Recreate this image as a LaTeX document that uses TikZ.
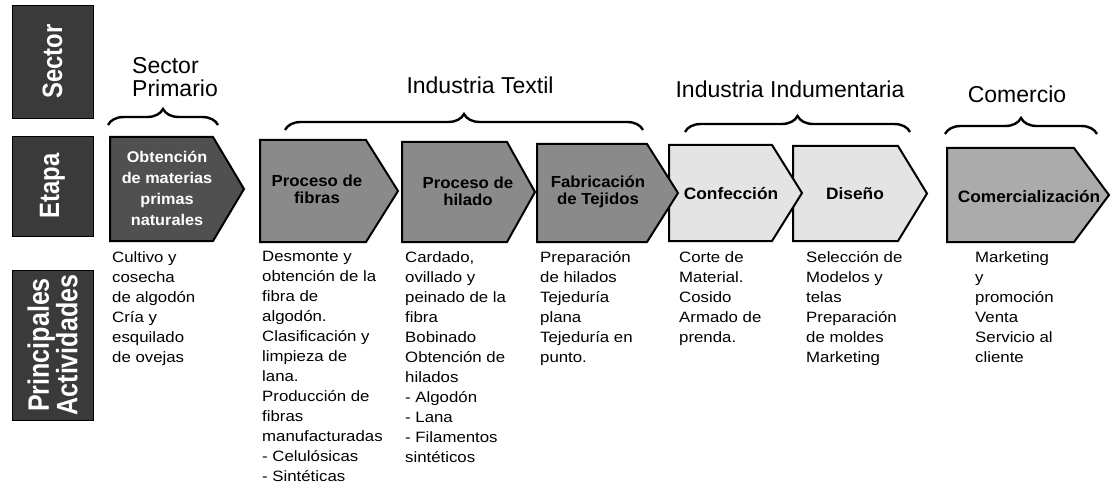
\documentclass[tikz,border=0pt]{standalone}
\usepackage{fontspec}
\setmainfont{Liberation Sans}
\newfontfamily\actfont[FakeStretch=1.12]{Liberation Sans}
\newfontfamily\stgfont[FakeStretch=1.05]{Liberation Sans}
\newfontfamily\lblfont[FakeStretch=0.85]{Liberation Sans}
\usetikzlibrary{decorations.pathreplacing}
\definecolor{lblgray}{HTML}{3A3A3A}
\definecolor{obtgray}{HTML}{505050}
\definecolor{midgray}{HTML}{8A8A8A}
\definecolor{lightgray}{HTML}{E4E4E4}
\definecolor{comgray}{HTML}{ABABAB}
\tikzset{
  rowlbl/.style={fill=lblgray, draw=black, line width=0.6pt, rotate=90, text=white,
    font=\lblfont\bfseries\fontsize{28}{26}\selectfont, align=center, inner sep=0pt},
  chev/.style={draw=black, line width=2pt, line join=miter},
  stagetxt/.style={font=\stgfont\bfseries\fontsize{16}{17}\selectfont, align=center, inner sep=0pt},
  hdr/.style={font=\fontsize{23}{22}\selectfont, inner sep=0pt},
  bracestyle/.style={decorate, decoration={brace, amplitude=16pt}, line width=2.4pt},
  acttxt/.style={font=\actfont\fontsize{15}{20}\selectfont, align=left, anchor=north west, inner sep=0pt},
}
\begin{document}
\begin{tikzpicture}[x=1pt,y=-1pt]
\useasboundingbox (0,0) rectangle (1111,484);
% row labels
\node[rowlbl, minimum width=113, minimum height=81] (lsector) at (52.5,61.5) {Sector};
\node[rowlbl, minimum width=100, minimum height=81] (letapa) at (52.5,186) {Etapa};
\node[rowlbl, minimum width=150, minimum height=81, font=\lblfont\bfseries\fontsize{29.5}{27}\selectfont] (lact) at (52.5,345) {Principales\\Actividades};
% headers
\node[hdr, anchor=west] (hsec) at (132,66) {Sector};
\node[hdr, anchor=west] (hprim) at (132,88) {Primario};
\node[hdr] (htext) at (480,85) {Industria Textil};
\node[hdr] (hindu) at (790,89) {Industria Indumentaria};
\node[hdr] (hcom) at (1017,94) {Comercio};
% braces
\coordinate (b1a) at (108,125); \coordinate (b1b) at (218,125);
\coordinate (b2a) at (285,130); \coordinate (b2b) at (643,130);
\coordinate (b3a) at (685,132); \coordinate (b3b) at (910,132);
\coordinate (b4a) at (945,134); \coordinate (b4b) at (1097,134);
\draw[bracestyle] (b1a) -- (b1b);
\draw[bracestyle] (b2a) -- (b2b);
\draw[bracestyle] (b3a) -- (b3b);
\draw[bracestyle] (b4a) -- (b4b);
% stages (right to left so points overlap next box)
\draw[chev, fill=comgray] (947,148) -- (1074,148) -- (1109,195) -- (1074,242) -- (947,242) -- cycle;
\node[stagetxt, font=\stgfont\bfseries\fontsize{16.5}{17}\selectfont] (scom) at (1029,197) {Comercialización};
\draw[chev, fill=lightgray] (793,146) -- (898,146) -- (927,193.5) -- (898,241) -- (793,241) -- cycle;
\node[stagetxt, font=\stgfont\bfseries\fontsize{16.5}{17}\selectfont] (sdis) at (855,194) {Diseño};
\draw[chev, fill=lightgray] (669,145) -- (772,145) -- (802,193) -- (772,241) -- (669,241) -- cycle;
\node[stagetxt, font=\stgfont\bfseries\fontsize{16.5}{17}\selectfont] (sconf) at (731,194) {Confección};
\draw[chev, fill=midgray] (537,144) -- (647,144) -- (678,193) -- (647,242) -- (537,242) -- cycle;
\node[stagetxt] (steji) at (598,192) {Fabricación\\de Tejidos};
\draw[chev, fill=midgray] (402,142) -- (507,142) -- (535,192) -- (507,242) -- (402,242) -- cycle;
\node[stagetxt] (shil) at (468,191) {Proceso de\\hilado};
\draw[chev, fill=midgray] (260,140) -- (366,140) -- (398,191) -- (366,242) -- (260,242) -- cycle;
\node[stagetxt] (sfib) at (317,189) {Proceso de\\fibras};
\draw[chev, fill=obtgray] (110,137) -- (213,137) -- (244,189) -- (213,241) -- (110,241) -- cycle;
\node[stagetxt, text=white, font=\stgfont\bfseries\fontsize{15.5}{21}\selectfont] (sobt) at (167,188) {Obtención\\de materias\\primas\\naturales};
% activities
\node[acttxt] (a1) at (112,251) {Cultivo y\\cosecha\\de algodón\\Cría y\\esquilado\\de ovejas};
\node[acttxt] (a2) at (262,251) {Desmonte y\\obtención de la\\fibra de\\algodón.\\Clasificación y\\limpieza de\\lana.\\Producción de\\fibras\\manufacturadas\\- Celulósicas\\- Sintéticas};
\node[acttxt] (a3) at (405,251) {Cardado,\\ovillado y\\peinado de la\\fibra\\Bobinado\\Obtención de\\hilados\\- Algodón\\- Lana\\- Filamentos\\sintéticos};
\node[acttxt] (a4) at (540,251) {Preparación\\de hilados\\Tejeduría\\plana\\Tejeduría en\\ punto.};
\node[acttxt] (a5) at (679,251) {Corte de\\Material.\\Cosido\\Armado de\\prenda.};
\node[acttxt] (a6) at (806,251) {Selección de\\Modelos y\\telas\\Preparación\\de moldes\\Marketing};
\node[acttxt] (a7) at (975,251) {Marketing\\y\\promoción\\Venta\\Servicio al\\cliente};
\end{tikzpicture}
\end{document}
